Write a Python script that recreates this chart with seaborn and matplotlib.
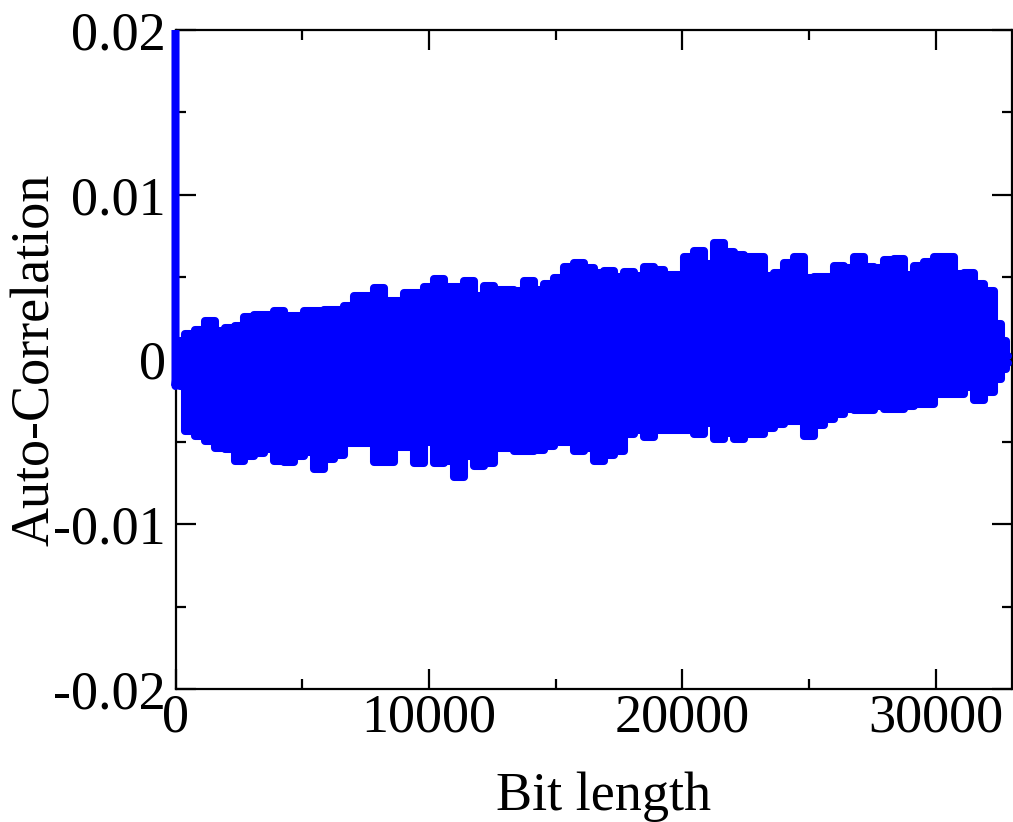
import numpy as np
import matplotlib
matplotlib.use("Agg")
import matplotlib.pyplot as plt
from matplotlib.ticker import MultipleLocator, FixedLocator, FixedFormatter
from matplotlib.transforms import Bbox, TransformedBbox
import seaborn as sns

# ---------------- data ----------------
lag0 = 0          # lag 0
acf0 = 1.0        # auto-correlation at lag 0 (clipped by the y range)

# sampling positions of the envelope (bits)
lag_grid = [160, 554, 949, 1343, 1737, 2132, 2526, 2920, 3314, 3709,
            4103, 4497, 4892, 5286, 5680, 6075, 6469, 6863, 7257, 7652,
            8046, 8440, 8835, 9229, 9623, 10018, 10412, 10806, 11200, 11595,
            11989, 12383, 12778, 13172, 13566, 13961, 14355, 14749, 15143, 15538,
            15932, 16326, 16721, 17115, 17509, 17904, 18298, 18692, 19086, 19481,
            19875, 20269, 20664, 21058, 21452, 21847, 22241, 22635, 23029, 23424,
            23818, 24212, 24607, 25001, 25395, 25790, 26184, 26578, 26972, 27367,
            27761, 28155, 28550, 28944, 29338, 29733, 30127, 30521, 30915, 31310,
            31704, 32098, 32493, 32700, 32880]

# local maxima of the auto-correlation around each position
acf_high = [0.00112, 0.00155, 0.00179, 0.00234, 0.00173, 0.00191, 0.00203, 0.00258, 0.00270, 0.00270,
            0.00294, 0.00264, 0.00264, 0.00294, 0.00294, 0.00300, 0.00300, 0.00325, 0.00385, 0.00385,
            0.00434, 0.00355, 0.00355, 0.00404, 0.00404, 0.00440, 0.00489, 0.00440, 0.00440, 0.00476,
            0.00385, 0.00446, 0.00422, 0.00422, 0.00416, 0.00476, 0.00422, 0.00458, 0.00495, 0.00561,
            0.00586, 0.00555, 0.00525, 0.00537, 0.00501, 0.00531, 0.00507, 0.00561, 0.00543, 0.00513,
            0.00513, 0.00622, 0.00659, 0.00580, 0.00707, 0.00652, 0.00634, 0.00622, 0.00622, 0.00507,
            0.00525, 0.00586, 0.00622, 0.00495, 0.00501, 0.00501, 0.00568, 0.00555, 0.00622, 0.00561,
            0.00555, 0.00604, 0.00610, 0.00513, 0.00568, 0.00592, 0.00622, 0.00622, 0.00519, 0.00525,
            0.00458, 0.00416, 0.00215, 0.00112, 0.00020]

# local minima of the auto-correlation around each position
acf_low = [-0.00161, -0.00434, -0.00464, -0.00495, -0.00537, -0.00543, -0.00616, -0.00586, -0.00568, -0.00543,
           -0.00616, -0.00622, -0.00586, -0.00561, -0.00665, -0.00604, -0.00580, -0.00507, -0.00507, -0.00507,
           -0.00622, -0.00622, -0.00531, -0.00531, -0.00628, -0.00501, -0.00628, -0.00616, -0.00713, -0.00586,
           -0.00646, -0.00628, -0.00537, -0.00537, -0.00555, -0.00555, -0.00549, -0.00525, -0.00501, -0.00501,
           -0.00555, -0.00537, -0.00616, -0.00580, -0.00555, -0.00452, -0.00428, -0.00470, -0.00428, -0.00428,
           -0.00428, -0.00428, -0.00452, -0.00385, -0.00483, -0.00446, -0.00483, -0.00452, -0.00452, -0.00416,
           -0.00392, -0.00373, -0.00373, -0.00464, -0.00398, -0.00361, -0.00331, -0.00300, -0.00307, -0.00307,
           -0.00282, -0.00300, -0.00300, -0.00282, -0.00270, -0.00270, -0.00209, -0.00209, -0.00209, -0.00167,
           -0.00246, -0.00197, -0.00118, -0.00060, -0.00020]

x_ticks = [0, 10000, 20000, 30000]
x_tick_labels = ["0", "10000", "20000", "30000"]
y_ticks = [-0.02, -0.01, 0.0, 0.01, 0.02]
y_tick_labels = ["-0.02", "-0.01", "0", "0.01", "0.02"]

LINE_BLUE = "#0000ff"

# ---------------- figure ----------------
sns.set_style("ticks")
plt.rcParams["font.family"] = ["Liberation Serif", "DejaVu Serif"]
plt.rcParams["text.color"] = "black"
plt.rcParams["axes.labelcolor"] = "black"

fig = plt.figure(figsize=(10.13, 8.22), dpi=100)
ax = fig.add_axes([175.5 / 1013, 1 - 689 / 822, (1011.5 - 175.5) / 1013, (689 - 30) / 822])

# dense oscillation: area between local minima and maxima
ax.fill_between(lag_grid, acf_low, acf_high, step="mid", color=LINE_BLUE, linewidth=0)

# lag-0 peak: vertical drop from acf(0) to the first sample
sns.lineplot(x=[lag0, lag0, lag_grid[0]], y=[acf0, acf_low[0], acf_high[0]], ax=ax,
             color=LINE_BLUE, linewidth=5.8, estimator=None, sort=False)
# upper and lower traces of the thick line
sns.lineplot(x=lag_grid, y=acf_high, ax=ax, color=LINE_BLUE,
             linewidth=5.8, estimator=None, sort=False, drawstyle="steps-mid")
sns.lineplot(x=lag_grid, y=acf_low, ax=ax, color=LINE_BLUE,
             linewidth=5.8, estimator=None, sort=False, drawstyle="steps-mid")

# the thick line is clipped only at the top/bottom/right of the frame, not at the left
clip = TransformedBbox(Bbox([[-0.012, 0.0], [1.0, 1.0]]), ax.transAxes)
for ln in ax.lines:
    ln.set_clip_box(clip)

ax.set_xlim(0, 33000)
ax.set_ylim(-0.02, 0.02)

ax.xaxis.set_major_locator(FixedLocator(x_ticks))
ax.xaxis.set_major_formatter(FixedFormatter(x_tick_labels))
ax.xaxis.set_minor_locator(MultipleLocator(5000))
ax.yaxis.set_major_locator(FixedLocator(y_ticks))
ax.yaxis.set_major_formatter(FixedFormatter(y_tick_labels))
ax.yaxis.set_minor_locator(MultipleLocator(0.005))

for s in ax.spines.values():
    s.set_linewidth(1.6)
    s.set_color("black")
    s.set_visible(True)
    s.set_zorder(1)

ax.tick_params(which="both", direction="in", top=True, right=True,
               width=1.6, color="black", labelsize=39, labelcolor="black")
ax.tick_params(which="major", length=14.4)
ax.tick_params(which="minor", length=7.2)
ax.tick_params(axis="x", which="major", pad=3)
ax.tick_params(axis="y", which="major", pad=7)

ax.set_xlabel("Bit length", fontsize=39, va="center", color="black")
ax.set_ylabel("Auto-Correlation", fontsize=39, va="center", color="black")
ax.xaxis.set_label_coords((604 - 175.5) / 836, -0.163)
ax.yaxis.set_label_coords((36 - 175.5) / 836, 0.5)

ax.grid(False)
fig.savefig("out.png", dpi=100)
